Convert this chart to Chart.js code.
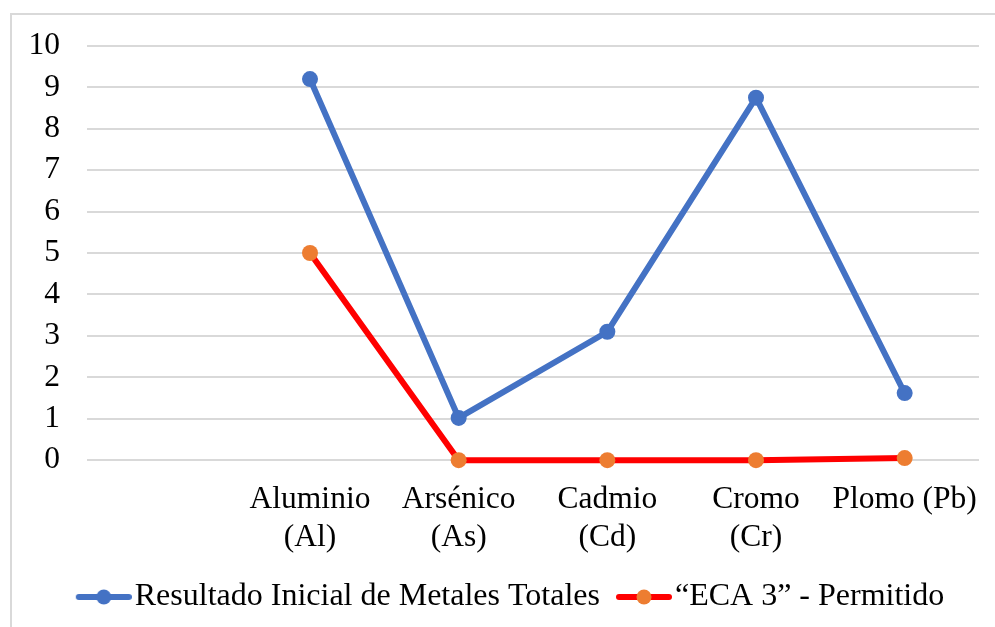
<!DOCTYPE html>
<html>
<head>
<meta charset="utf-8">
<script src="https://cdn.jsdelivr.net/npm/chart.js@4.4.1/dist/chart.umd.min.js"></script>
<style>
  body { margin: 0; background: #fff; }
  #wrap { position: relative; width: 995px; height: 627px; }
  #frame { position: absolute; left: 10px; top: 13px; right: 0; bottom: 0;
           border-top: 2px solid #d9d9d9; border-left: 2px solid #d9d9d9; }
  #mychart { position: absolute; left: 0; top: 0; }
</style>
</head>
<body>
<div id="wrap">
  <div id="frame"></div>
  <canvas id="mychart" width="995" height="627"></canvas>
</div>
<script>
// categories (first one is an empty slot, like the original sheet)
let metales = [
  "",
  ["Aluminio", "(Al)"],
  ["Arsénico", "(As)"],
  ["Cadmio", "(Cd)"],
  ["Cromo", "(Cr)"],
  "Plomo (Pb)",
];

// series values
let resultadoInicial = [null, 9.2, 1.02, 3.1, 8.75, 1.62];
let eca3Permitido = [null, 5, 0, 0, 0, 0.05];

// y axis ticks 0..10
let yTicks = [0, 1, 2, 3, 4, 5, 6, 7, 8, 9, 10];

let serieNames = ["Resultado Inicial de Metales Totales", "\u201CECA 3\u201D - Permitido"];

const FONT = "'Liberation Serif', 'Times New Roman', serif";

// legend swatch: thick line with a dot in the middle
// (17px of empty space on the left so the swatch sits close to its text)
function legendSwatch(lineColor, dotColor) {
  let c = document.createElement("canvas");
  c.width = 73;
  c.height = 18;
  let ctx = c.getContext("2d");
  ctx.strokeStyle = lineColor;
  ctx.lineWidth = 6;
  ctx.lineCap = "round";
  ctx.beginPath();
  ctx.moveTo(20, 9);
  ctx.lineTo(70, 9);
  ctx.stroke();
  ctx.fillStyle = dotColor;
  ctx.beginPath();
  ctx.arc(45, 9, 7.5, 0, Math.PI * 2);
  ctx.fill();
  return c;
}

let swatches = [legendSwatch("#4472C4", "#4472C4"), legendSwatch("#FF0000", "#ED7D31")];

// nudge the legend a bit to the right, like the original
const legendShift = {
  id: "legendShift",
  afterLayout(chart) {
    chart.legend.left += 12;
    chart.legend.right += 12;
  },
};

let data = {
  labels: metales,
  datasets: [
    {
      label: serieNames[0],
      data: resultadoInicial,
      borderColor: "#4472C4",
      backgroundColor: "#4472C4",
      borderWidth: 6,
      pointRadius: 8,
      pointBackgroundColor: "#4472C4",
      pointBorderWidth: 0,
      tension: 0,
      clip: false,
    },
    {
      label: serieNames[1],
      data: eca3Permitido,
      borderColor: "#FF0000",
      backgroundColor: "#ED7D31",
      borderWidth: 6,
      pointRadius: 8,
      pointBackgroundColor: "#ED7D31",
      pointBorderWidth: 0,
      tension: 0,
      clip: false,
    },
  ],
};

let options = {
  responsive: false,
  animation: false,
  events: [],
  layout: { padding: { left: 13, right: 16, top: 45, bottom: 4 } },
  plugins: {
    tooltip: { enabled: false },
    legend: {
      display: true,
      position: "bottom",
      labels: {
        usePointStyle: true,
        pointStyleWidth: 47,
        padding: 12,
        color: "#000",
        font: { family: FONT, size: 32 },
        generateLabels: (chart) =>
          chart.data.datasets.map((ds, i) => ({
            text: ds.label,
            pointStyle: swatches[i],
            fillStyle: ds.backgroundColor,
            strokeStyle: ds.borderColor,
            lineWidth: 0,
            hidden: false,
            datasetIndex: i,
            fontColor: "#000",
          })),
      },
    },
  },
  scales: {
    x: {
      type: "category",
      offset: true,
      grid: { display: false },
      border: { display: false },
      ticks: {
        color: "#000",
        padding: 12,
        maxRotation: 0,
        autoSkip: false,
        font: { family: FONT, size: 31.5, lineHeight: 1.22 },
      },
    },
    y: {
      min: 0,
      max: 10,
      afterBuildTicks: (axis) => {
        axis.ticks = yTicks.map((v) => ({ value: v }));
      },
      afterFit: (axis) => {
        axis.width = 74;
      },
      grid: { color: "#d9d9d9", lineWidth: 2, drawTicks: false },
      border: { display: false },
      ticks: {
        color: "#000",
        padding: 27,
        autoSkip: false,
        stepSize: 1,
        font: { family: FONT, size: 31.5 },
      },
    },
  },
};

const config = { type: "line", data: data, options: options, plugins: [legendShift] };
let metalChart = new Chart(document.getElementById("mychart"), config);
</script>
</body>
</html>
